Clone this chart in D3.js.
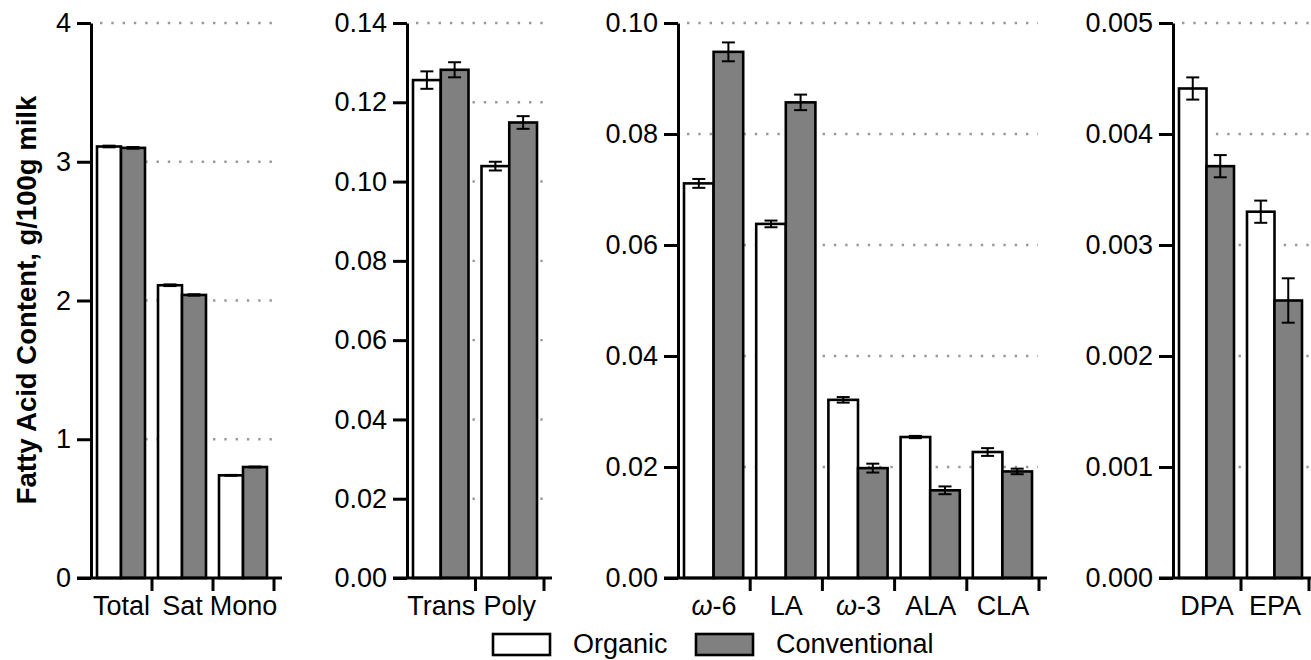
<!DOCTYPE html>
<html>
<head>
<meta charset="utf-8">
<script src="https://cdn.jsdelivr.net/npm/d3@7"></script>
<style>
body { margin: 0; background: #fff; }
text { font-family: "Liberation Sans", Arial, sans-serif; fill: #000; }
</style>
</head>
<body>
<svg id="chart"></svg>
<script>
// series
const seriesNames = ["Organic", "Conventional"];
const seriesFill = ["#ffffff", "#808080"];

// panel 1: totals
const majorCats = ["Total", "Sat", "Mono"];
const majorOrganic = [3.11, 2.11, 0.74];
const majorConventional = [3.10, 2.04, 0.80];
const majorOrganicErr = [0.006, 0.006, 0.003];
const majorConventionalErr = [0.006, 0.005, 0.003];
const majorTicks = [0, 1, 2, 3, 4];

// panel 2: trans / poly
const transCats = ["Trans", "Poly"];
const transOrganic = [0.1256, 0.1039];
const transConventional = [0.1282, 0.1149];
const transOrganicErr = [0.0022, 0.0011];
const transConventionalErr = [0.0019, 0.0016];
const transTicks = [0, 0.02, 0.04, 0.06, 0.08, 0.10, 0.12, 0.14];

// panel 3: omega fatty acids
const omegaCats = ["ω-6", "LA", "ω-3", "ALA", "CLA"];
const omegaOrganic = [0.0711, 0.0638, 0.0321, 0.0254, 0.0227];
const omegaConventional = [0.0948, 0.0857, 0.0198, 0.0158, 0.0192];
const omegaOrganicErr = [0.0008, 0.0006, 0.0005, 0.0002, 0.0007];
const omegaConventionalErr = [0.0017, 0.0014, 0.0008, 0.0007, 0.0005];
const omegaTicks = [0, 0.02, 0.04, 0.06, 0.08, 0.10];

// panel 4: long chain
const longCats = ["DPA", "EPA"];
const longOrganic = [0.00441, 0.00330];
const longConventional = [0.00371, 0.00250];
const longOrganicErr = [0.0001, 0.0001];
const longConventionalErr = [0.0001, 0.0002];
const longTicks = [0, 0.001, 0.002, 0.003, 0.004, 0.005];

const width = 1311, height = 660;
const yBottom = 578, yTop = 23;

const panels = [
    {cats: majorCats, vals: [majorOrganic, majorConventional], errs: [majorOrganicErr, majorConventionalErr],
     ticks: majorTicks, fmt: "d", axisX: 91, bw: 61},
    {cats: transCats, vals: [transOrganic, transConventional], errs: [transOrganicErr, transConventionalErr],
     ticks: transTicks, fmt: ".2f", axisX: 407, bw: 68.5},
    {cats: omegaCats, vals: [omegaOrganic, omegaConventional], errs: [omegaOrganicErr, omegaConventionalErr],
     ticks: omegaTicks, fmt: ".2f", axisX: 678, bw: 72.2},
    {cats: longCats, vals: [longOrganic, longConventional], errs: [longOrganicErr, longConventionalErr],
     ticks: longTicks, fmt: ".3f", axisX: 1173, bw: 68, open: true}
];

const svg = d3.select("#chart")
    .attr("width", width)
    .attr("height", height);

panels.forEach(drawPanel);

function drawPanel(p) {
    let g = svg.append("g");
    let xEnd = p.axisX + p.cats.length * p.bw;

    let x = d3.scaleBand()
        .domain(p.cats)
        .range([p.axisX, xEnd]);
    let sub = d3.scaleBand()
        .domain(seriesNames)
        .range([6, p.bw - 7]);
    let y = d3.scaleLinear()
        .domain([0, d3.max(p.ticks)])
        .range([yBottom, yTop]);

    let gridEnd = p.open ? width + 5 : xEnd - 1;

    // dotted gridlines, behind the bars
    g.selectAll("line.grid")
        .data(p.ticks.filter(t => t > 0)).enter()
        .append("line")
            .attr("x1", p.axisX + 9)
            .attr("x2", gridEnd)
            .attr("y1", d => y(d))
            .attr("y2", d => y(d))
            .attr("stroke", "#999")
            .attr("stroke-width", 2.4)
            .attr("stroke-dasharray", "2.4,8.9");

    // bars
    let rows = [];
    p.cats.forEach((c, i) => {
        seriesNames.forEach((s, j) => {
            rows.push({cat: c, series: s, idx: j, value: p.vals[j][i], err: p.errs[j][i]});
        });
    });

    g.selectAll("rect.bar")
        .data(rows).enter()
        .append("rect")
            .attr("x", d => x(d.cat) + sub(d.series))
            .attr("width", sub.bandwidth())
            .attr("y", d => y(d.value))
            .attr("height", d => yBottom - y(d.value))
            .attr("fill", d => seriesFill[d.idx])
            .attr("stroke", "#000")
            .attr("stroke-width", 2.6);

    // error bars
    let eb = g.selectAll("g.err")
        .data(rows).enter()
        .append("g")
            .attr("transform", d => `translate(${x(d.cat) + sub(d.series) + sub.bandwidth()/2},0)`)
            .attr("stroke", "#000")
            .attr("stroke-width", 2);
    eb.append("line")
        .attr("y1", d => y(d.value + d.err))
        .attr("y2", d => y(d.value - d.err));
    eb.append("line")
        .attr("x1", -6.5).attr("x2", 6.5)
        .attr("y1", d => y(d.value + d.err))
        .attr("y2", d => y(d.value + d.err));
    eb.append("line")
        .attr("x1", -6.5).attr("x2", 6.5)
        .attr("y1", d => y(d.value - d.err))
        .attr("y2", d => y(d.value - d.err));

    // y axis
    let yAxis = g.append("g")
        .attr("transform", `translate(${p.axisX},0)`)
        .call(d3.axisLeft(y)
            .tickValues(p.ticks)
            .tickSize(14)
            .tickSizeOuter(0)
            .tickPadding(6)
            .tickFormat(d3.format(p.fmt)));
    yAxis.select(".domain").attr("stroke-width", 3);
    yAxis.selectAll(".tick line").attr("stroke-width", 3);
    yAxis.selectAll(".tick text")
        .style("font-size", "27px")
        .style("font-family", "Liberation Sans, Arial, sans-serif");

    // x axis baseline
    g.append("line")
        .attr("x1", p.axisX - 14)
        .attr("x2", p.open ? width + 5 : xEnd + 8)
        .attr("y1", yBottom).attr("y2", yBottom)
        .attr("stroke", "#000")
        .attr("stroke-width", 3);

    g.selectAll("line.xtick")
        .data(p.cats).enter()
        .append("line")
            .attr("x1", d => x(d) + x.bandwidth())
            .attr("x2", d => x(d) + x.bandwidth())
            .attr("y1", yBottom)
            .attr("y2", yBottom + 13)
            .attr("stroke", "#000")
            .attr("stroke-width", 3);

    let labels = g.selectAll("text.xlab")
        .data(p.cats).enter()
        .append("text")
            .attr("x", d => x(d) + x.bandwidth()/2)
            .attr("y", 615)
            .style("font-size", "27px")
            .style("text-anchor", "middle");
    labels.each(function(d) {
        let t = d3.select(this);
        if (d.startsWith("ω")) {
            t.append("tspan").style("font-style", "italic").text("ω");
            t.append("tspan").text(d.slice(1));
        } else {
            t.text(d);
        }
    });
}

// y title
svg.append("text")
    .attr("transform", "translate(36,300) rotate(-90)")
    .style("font-size", "27.5px")
    .style("font-weight", "bold")
    .style("text-anchor", "middle")
    .text("Fatty Acid Content, g/100g milk");

// legend
let legendX = [493, 696];
let legend = svg.selectAll("g.legend")
    .data(seriesNames).enter()
    .append("g")
        .attr("transform", (d, i) => `translate(${legendX[i]},634)`);
legend.append("rect")
    .attr("width", 57)
    .attr("height", 21)
    .attr("fill", (d, i) => seriesFill[i])
    .attr("stroke", "#000")
    .attr("stroke-width", 2.6);
legend.append("text")
    .attr("x", 80)
    .attr("y", 19)
    .style("font-size", "27px")
    .text(d => d);
</script>
</body>
</html>
